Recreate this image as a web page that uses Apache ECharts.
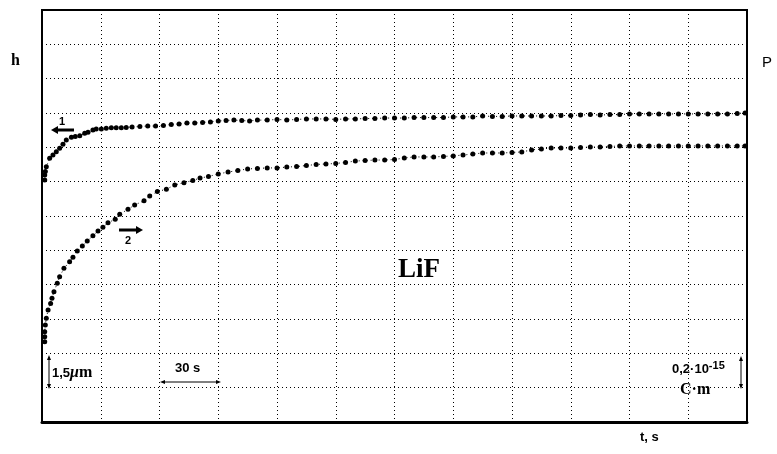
<!DOCTYPE html>
<html>
<head>
<meta charset="utf-8">
<script src="https://cdn.jsdelivr.net/npm/echarts@6/dist/echarts.min.js"></script>
<style>html,body{margin:0;padding:0;background:#fff}#c{width:777px;height:454px}</style>
</head>
<body>
<div id="c"></div>
<script>
// time, s
const tH = [1.4,1.4,1.7,2.2,3.9,5.6,7.3,9.0,10.7,12.4,15.0,17.0,19.3,21.8,23.5,26.0,27.7,30.3,32.8,35.4,37.9,40.5,43,46,50,54,58,62,66,70,74,78,82,86,90,94,98,102,106,110,115,120,125,130,135,140,145,150,155,160,165,170,175,180,185,190,195,200,205,210,215,220,225,230,235,240,245,250,255,260,265,270,275,280,285,290,295,300,305,310,315,320,325,330,335,340,345,350,355,359];
// curve 1: h, µm
const hVals = [10.57,10.79,10.94,11.15,11.52,11.67,11.81,11.96,12.13,12.32,12.44,12.47,12.51,12.61,12.66,12.76,12.80,12.80,12.83,12.86,12.86,12.86,12.87,12.89,12.91,12.93,12.93,12.95,13.00,13.02,13.06,13.06,13.09,13.11,13.15,13.17,13.19,13.17,13.15,13.19,13.19,13.22,13.19,13.22,13.24,13.24,13.24,13.22,13.24,13.24,13.26,13.26,13.28,13.28,13.28,13.30,13.30,13.30,13.30,13.33,13.33,13.33,13.37,13.35,13.35,13.37,13.37,13.37,13.37,13.37,13.39,13.39,13.41,13.43,13.41,13.43,13.43,13.46,13.46,13.46,13.46,13.46,13.46,13.46,13.46,13.46,13.46,13.46,13.48,13.50];
// time, s
const tP = [1.4,1.4,1.4,1.7,2.2,3.1,4.4,5.1,6.1,7.8,9.0,11.2,14.1,15.8,18.0,20.6,23.1,26.0,28.6,31.1,33.7,37.4,39.7,43.9,47.3,52.1,55.0,58.9,63.5,67.8,72.5,77,80.7,85,90,95,100,105,110,115,120,125,130,135,140,145,150,155,160,165,170,175,180,185,190,195,200,205,210,215,220,225,230,235,240,245,250,255,260,265,270,275,280,285,290,295,300,305,310,315,320,325,330,335,340,345,350,355,359];
// curve 2: P, 10^-15 C·m
const pVals = [0.468,0.497,0.526,0.565,0.604,0.652,0.691,0.721,0.759,0.808,0.846,0.895,0.934,0.959,0.996,1.025,1.054,1.085,1.113,1.134,1.161,1.181,1.210,1.239,1.264,1.289,1.317,1.342,1.356,1.381,1.394,1.407,1.421,1.430,1.445,1.456,1.465,1.474,1.477,1.480,1.480,1.485,1.488,1.494,1.500,1.503,1.506,1.512,1.520,1.523,1.526,1.526,1.529,1.538,1.544,1.544,1.544,1.547,1.550,1.555,1.561,1.567,1.567,1.567,1.570,1.573,1.585,1.590,1.596,1.596,1.596,1.599,1.602,1.602,1.605,1.608,1.608,1.608,1.608,1.608,1.608,1.608,1.608,1.608,1.608,1.608,1.608,1.608,1.608];

const chart = echarts.init(document.getElementById('c'), null, {renderer: 'canvas'});
const dotted = {type: [1, 3], color: '#000', width: 1};
const arrowHead = (pts) => ({type: 'polygon', shape: {points: pts}, style: {fill: '#000'}});
chart.setOption({
  animation: false,
  backgroundColor: '#fff',
  grid: {left: 42, right: 30, top: 10, bottom: 32, show: true, borderColor: '#000', borderWidth: 2, backgroundColor: 'transparent'},
  xAxis: {type: 'value', min: 0, max: 360, interval: 30,
    axisLine: {show: true, onZero: false, lineStyle: {color: '#000', width: 3}}, axisTick: {show: false}, axisLabel: {show: false},
    splitLine: {show: true, lineStyle: dotted}},
  yAxis: [
    {type: 'value', min: 0, max: 18, interval: 1.5,
      axisLine: {show: false}, axisTick: {show: false}, axisLabel: {show: false},
      splitLine: {show: true, lineStyle: dotted}},
    {type: 'value', min: 0, max: 2.4, interval: 0.2, position: 'right',
      axisLine: {show: false}, axisTick: {show: false}, axisLabel: {show: false},
      splitLine: {show: false}}
  ],
  series: [
    {type: 'line', yAxisIndex: 0, data: tH.map((t, i) => [t, hVals[i]]),
      symbol: 'circle', symbolSize: 5, showAllSymbol: true,
      itemStyle: {color: '#000'}, lineStyle: {type: [1, 3], width: 1, color: '#000'}},
    {type: 'line', yAxisIndex: 1, data: tP.map((t, i) => [t, pVals[i]]),
      symbol: 'circle', symbolSize: 5, showAllSymbol: true,
      itemStyle: {color: '#000'}, lineStyle: {type: [1, 3], width: 1, color: '#000'}}
  ],
  graphic: [
    {type: 'text', left: 11, top: 53, style: {text: 'h', font: 'bold 16px "Liberation Serif"', fill: '#000'}},
    {type: 'text', left: 762, top: 55, style: {text: 'P', font: '15px "Liberation Sans"', fill: '#000'}},
    {type: 'text', left: 640, top: 431, style: {text: 't, s', font: 'bold 13px "Liberation Sans"', fill: '#000'}},
    {type: 'text', left: 398, top: 257, style: {text: 'LiF', font: 'bold 27px "Liberation Serif"', fill: '#000'}},
    // arrow 1
    {type: 'line', shape: {x1: 57, y1: 130, x2: 74, y2: 130}, style: {stroke: '#000', lineWidth: 3}},
    arrowHead([[51, 130], [58, 126], [58, 134]]),
    {type: 'text', left: 59, top: 116, style: {text: '1', font: 'bold 11px "Liberation Sans"', fill: '#000'}},
    // arrow 2
    {type: 'line', shape: {x1: 119, y1: 230, x2: 136, y2: 230}, style: {stroke: '#000', lineWidth: 3}},
    arrowHead([[143, 230], [136, 226], [136, 234]]),
    {type: 'text', left: 125, top: 235, style: {text: '2', font: 'bold 11px "Liberation Sans"', fill: '#000'}},
    // 1,5 µm scale bar
    {type: 'line', shape: {x1: 49, y1: 358, x2: 49, y2: 387}, style: {stroke: '#000', lineWidth: 1}},
    arrowHead([[49, 355], [47, 360], [51, 360]]),
    arrowHead([[49, 389], [47, 384], [51, 384]]),
    {type: 'text', left: 52, top: 365, style: {rich: {a: {font: 'bold 13px "Liberation Sans"', fill: '#000'}, b: {font: 'italic bold 16px "Liberation Serif"', fill: '#000'}, c: {font: 'bold 16px "Liberation Serif"', fill: '#000'}}, text: '{a|1,5}{b|μ}{c|m}'}},
    // 30 s scale bar
    {type: 'line', shape: {x1: 163, y1: 382, x2: 218, y2: 382}, style: {stroke: '#000', lineWidth: 1}},
    arrowHead([[160, 382], [165, 380], [165, 384]]),
    arrowHead([[221, 382], [216, 380], [216, 384]]),
    {type: 'text', left: 175, top: 362, style: {text: '30 s', font: 'bold 13px "Liberation Sans"', fill: '#000'}},
    // 0,2·10^-15 C·m scale bar
    {type: 'line', shape: {x1: 741, y1: 359, x2: 741, y2: 386}, style: {stroke: '#000', lineWidth: 1}},
    arrowHead([[741, 356], [739, 361], [743, 361]]),
    arrowHead([[741, 389], [739, 384], [743, 384]]),
    {type: 'text', left: 672, top: 360, style: {rich: {a: {font: 'bold 13px "Liberation Sans Narrow", "Liberation Sans"', fill: '#000'}, s: {font: 'bold 11px "Liberation Sans"', fill: '#000', verticalAlign: 'top', padding: [0, 0, 8, 0]}}, text: '{a|0,2·10}{s|-15}'}},
    {type: 'text', left: 680, top: 382, style: {text: 'C·m', font: 'bold 16px "Liberation Serif"', fill: '#000'}}
  ]
});
</script>
</body>
</html>
